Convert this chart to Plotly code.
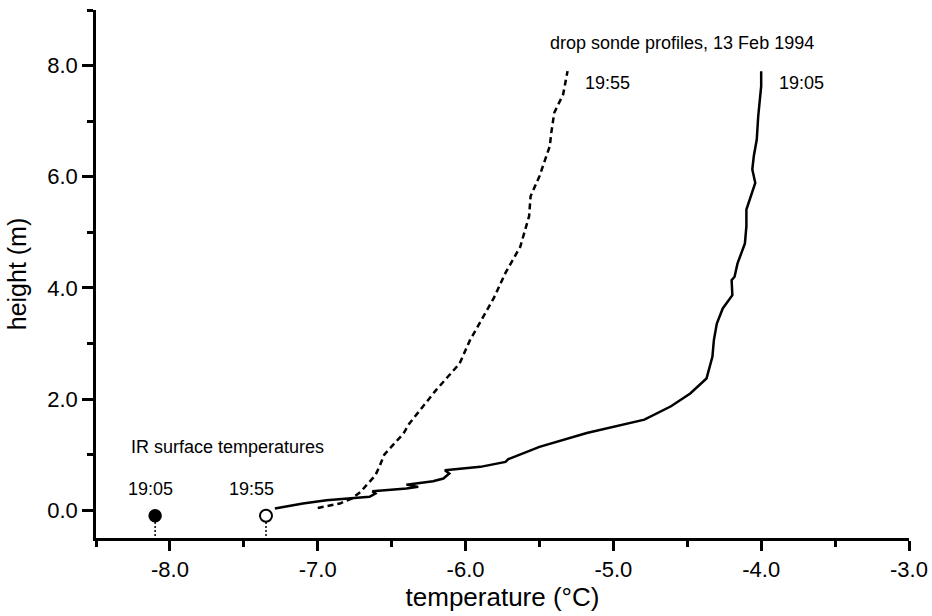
import plotly.graph_objects as go

# ---- data ----
# drop sonde 19:05 profile (solid)
t1905 = [-7.29, -7.10, -6.94, -6.76, -6.65, -6.61, -6.63, -6.40, -6.32, -6.40, -6.35,
         -6.22, -6.15, -6.11, -6.14, -5.90, -5.73, -5.71, -5.50, -5.18, -4.79, -4.61,
         -4.48, -4.37, -4.33, -4.32, -4.30, -4.26, -4.195, -4.20, -4.18, -4.16, -4.11,
         -4.10, -4.10, -4.04, -4.06, -4.05, -4.03, -4.02, -4.00, -4.00]
h1905 = [0.03, 0.12, 0.18, 0.22, 0.24, 0.30, 0.34, 0.39, 0.42, 0.46, 0.48,
         0.52, 0.57, 0.66, 0.72, 0.78, 0.87, 0.92, 1.14, 1.39, 1.63, 1.87,
         2.10, 2.37, 2.76, 3.06, 3.36, 3.63, 3.87, 4.14, 4.20, 4.44, 4.80,
         5.11, 5.41, 5.89, 6.13, 6.37, 6.67, 7.09, 7.63, 7.90]

# drop sonde 19:55 profile (dashed)
t1955 = [-7.00, -6.85, -6.77, -6.71, -6.67, -6.61, -6.58, -6.55, -6.42, -6.38, -6.20,
         -6.04, -5.97, -5.81, -5.73, -5.65, -5.63, -5.57, -5.56, -5.50, -5.43, -5.42,
         -5.40, -5.34, -5.31]
h1955 = [0.04, 0.12, 0.21, 0.33, 0.45, 0.63, 0.80, 1.00, 1.38, 1.56, 2.16,
         2.64, 3.06, 3.81, 4.27, 4.63, 4.74, 5.29, 5.65, 6.01, 6.55, 6.79,
         7.15, 7.48, 7.90]

# IR surface temperatures
ir_times = ["19:05", "19:55"]
ir_temps = [-8.10, -7.35]
ir_height = -0.10

# axes
x_range = [-8.5, -3.0]
y_range = [-0.5, 9.0]
x_tickvals = [-8, -7, -6, -5, -4, -3]
x_ticktext = ["-8.0", "-7.0", "-6.0", "-5.0", "-4.0", "-3.0"]
y_tickvals = [0, 2, 4, 6, 8]
y_ticktext = ["0.0", "2.0", "4.0", "6.0", "8.0"]

FONT = "Liberation Sans, Arial, Helvetica, sans-serif"

fig = go.Figure()

fig.add_trace(go.Scatter(x=t1905, y=h1905, mode="lines",
                         line=dict(color="black", width=2.5), showlegend=False))
fig.add_trace(go.Scatter(x=t1955, y=h1955, mode="lines",
                         line=dict(color="black", width=2.5, dash="6px,4px"), showlegend=False))

# dotted stems from IR markers down to the axis
for t in ir_temps:
    fig.add_trace(go.Scatter(x=[t, t], y=[ir_height - 0.11, y_range[0]], mode="lines",
                             line=dict(color="black", width=1.5, dash="2px,2px"),
                             showlegend=False, cliponaxis=False))

fig.add_trace(go.Scatter(x=[ir_temps[0]], y=[ir_height], mode="markers",
                         marker=dict(size=12, color="black", line=dict(color="black", width=1.5)),
                         showlegend=False))
fig.add_trace(go.Scatter(x=[ir_temps[1]], y=[ir_height], mode="markers",
                         marker=dict(size=12, color="white", line=dict(color="black", width=2)),
                         showlegend=False))

ann_font = dict(family=FONT, size=18, color="black")
annotations = [
    dict(x=-5.44, y=8.41, text="drop sonde profiles, 13 Feb 1994", xanchor="left"),
    dict(x=-5.205, y=7.69, text="19:55", xanchor="left"),
    dict(x=-3.893, y=7.69, text="19:05", xanchor="left"),
    dict(x=-8.28, y=1.135, text="IR surface temperatures", xanchor="left"),
    dict(x=ir_temps[0] - 0.03, y=0.39, text=ir_times[0], xanchor="center"),
    dict(x=ir_temps[1] - 0.10, y=0.39, text=ir_times[1], xanchor="center"),
]
for a in annotations:
    a.update(xref="x", yref="y", yanchor="middle", showarrow=False, font=ann_font)

fig.update_layout(
    width=932, height=616,
    margin=dict(l=96, r=23, t=10, b=78, autoexpand=False),
    paper_bgcolor="white", plot_bgcolor="white",
    annotations=annotations,
    font=dict(family=FONT, color="black"),
)

fig.update_xaxes(
    range=x_range, showgrid=False, zeroline=False, automargin=False,
    showline=True, linecolor="black", linewidth=2.5,
    ticks="outside", ticklen=10, tickwidth=2.5, tickcolor="black",
    tickvals=x_tickvals, ticktext=x_ticktext,
    tickfont=dict(family=FONT, size=22, color="black"),
    minor=dict(ticks="outside", ticklen=6, tickwidth=2.5, tickcolor="black", dtick=0.5, tick0=-8.5),
    title=dict(text="temperature (°C)", font=dict(family=FONT, size=26, color="black"), standoff=4),
)
fig.update_yaxes(
    range=y_range, showgrid=False, zeroline=False, automargin=False,
    showline=True, linecolor="black", linewidth=2.5,
    ticks="outside", ticklen=11, tickwidth=2.5, tickcolor="black",
    tickvals=y_tickvals, ticktext=y_ticktext,
    tickfont=dict(family=FONT, size=22, color="black"),
    minor=dict(ticks="outside", ticklen=6, tickwidth=2.5, tickcolor="black", dtick=1, tick0=0),
    title=dict(text="height (m)", font=dict(family=FONT, size=25, color="black"), standoff=14),
)

# remove the browser's default page margin so the figure sits at the window's top-left
fig.write_html("out.html",
               config={"displayModeBar": False},
               post_script="document.body.style.margin='0';document.body.style.padding='0';")
